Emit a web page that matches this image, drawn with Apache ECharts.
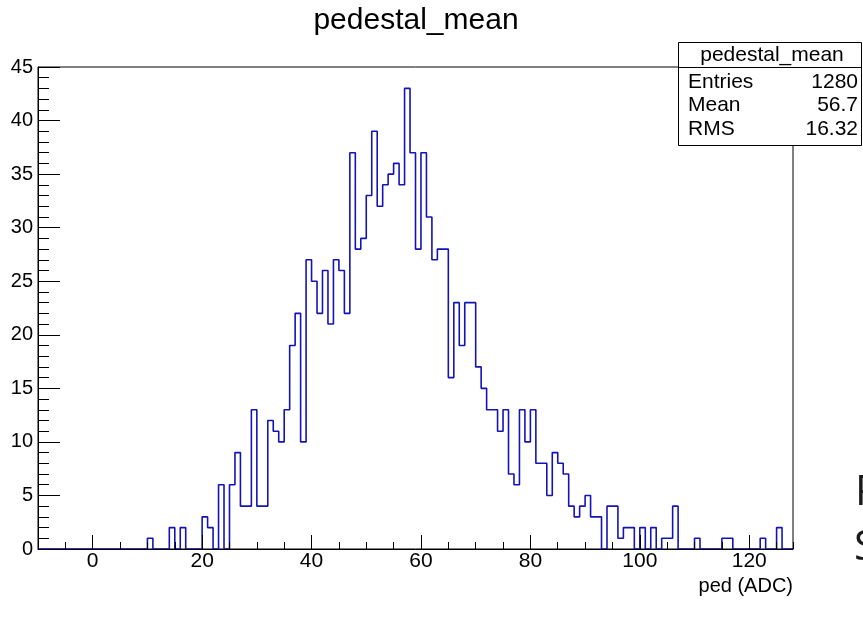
<!DOCTYPE html>
<html>
<head>
<meta charset="utf-8">
<script src="https://cdn.jsdelivr.net/npm/echarts@6/dist/echarts.min.js"></script>
<style>
html,body{margin:0;padding:0;background:#fff;}
#chart{width:863px;height:623px;}
</style>
</head>
<body>
<div id="chart"></div>
<script>
// Histogram definition: bins of width 1 starting at -10 (138 bins, up to 128)
const binStart = -10;
const binWidth = 1;
const binCounts = [
  0,0,0,0,0,0,0,0,0,0,        // -10 .. -1
  0,0,0,0,0,0,0,0,0,0,        // 0 .. 9
  1,0,0,0,2,0,2,0,0,0,        // 10 .. 19
  3,2,0,6,0,6,9,4,4,13,       // 20 .. 29
  4,4,12,11,10,13,19,22,10,27,// 30 .. 39
  25,22,26,21,27,26,22,37,28,29, // 40 .. 49
  33,39,32,34,35,36,34,43,37,28, // 50 .. 59
  37,31,27,28,28,16,23,19,23,23, // 60 .. 69
  17,15,13,13,11,13,7,6,13,10,   // 70 .. 79
  13,8,8,5,9,8,7,4,3,4,          // 80 .. 89
  5,3,3,0,4,4,1,2,2,0,           // 90 .. 99
  2,0,2,0,1,1,4,0,0,0,           // 100 .. 109
  1,0,0,0,0,1,1,0,0,0,           // 110 .. 119
  0,0,1,0,0,2,0,0                // 120 .. 127
];
const xMin = -10, xMax = 128;
const yMin = 0, yMax = 45;
const xMajorTicks = [0, 20, 40, 60, 80, 100, 120];
const titleText = 'pedestal_mean';
const xAxisTitle = 'ped (ADC)';
const statsTitle = 'pedestal_mean';
const statsLabels = ['Entries', 'Mean', 'RMS'];
const statsValues = ['1280', '56.7', '16.32'];

// step outline points at bin left edges, plus closing right edge
const stepData = binCounts.map((c, i) => [binStart + i * binWidth, c]);
stepData.push([binStart + binCounts.length * binWidth, binCounts[binCounts.length - 1]]);

const FONT = '"Liberation Sans", Arial, Helvetica, sans-serif';
const chart = echarts.init(document.getElementById('chart'), null, {renderer: 'canvas'});

const statsGraphics = [];
statsGraphics.push({
  type: 'rect', z: 100,
  shape: {x: 678.5, y: 42.5, width: 183, height: 103},
  style: {fill: '#fff', stroke: '#000', lineWidth: 1}
});
statsGraphics.push({
  type: 'line', z: 101,
  shape: {x1: 678.5, y1: 67.5, x2: 861.5, y2: 67.5},
  style: {stroke: '#000', lineWidth: 1}
});
statsGraphics.push({
  type: 'text', z: 101, x: 772, y: 55,
  style: {text: statsTitle, font: '21px ' + FONT, fill: '#000', align: 'center', verticalAlign: 'middle'}
});
statsLabels.forEach((lab, i) => {
  statsGraphics.push({
    type: 'text', z: 101, x: 688, y: 82 + i * 23.5,
    style: {text: lab, font: '21px ' + FONT, fill: '#000', align: 'left', verticalAlign: 'middle'}
  });
  statsGraphics.push({
    type: 'text', z: 101, x: 858, y: 82 + i * 23.5,
    style: {text: statsValues[i], font: '21px ' + FONT, fill: '#000', align: 'right', verticalAlign: 'middle'}
  });
});

const option = {
  backgroundColor: '#fff',
  animation: false,
  grid: {
    left: 38, right: 70, top: 67, bottom: 74,
    show: true, borderColor: '#000', borderWidth: 1, backgroundColor: 'transparent'
  },
  xAxis: [
    {
      type: 'value', min: xMin, max: xMax, interval: 5, position: 'bottom', z: 5,
      axisLine: {show: true, onZero: false, lineStyle: {color: '#000', width: 1}},
      axisTick: {show: true, inside: true, length: 7, lineStyle: {color: '#000', width: 1}},
      axisLabel: {show: false},
      splitLine: {show: false}
    },
    {
      type: 'value', min: xMin, max: xMax, position: 'bottom', z: 5,
      axisLine: {show: false, onZero: false},
      axisTick: {show: true, inside: true, length: 14, customValues: xMajorTicks, lineStyle: {color: '#000', width: 1}},
      axisLabel: {show: true, customValues: xMajorTicks, color: '#000', fontSize: 21, fontFamily: FONT, margin: 2},
      splitLine: {show: false}
    }
  ],
  yAxis: {
    type: 'value', min: yMin, max: yMax, interval: 5, z: 5,
    axisLine: {show: true, onZero: false, lineStyle: {color: '#000', width: 1}},
    axisTick: {show: true, inside: true, length: 22, lineStyle: {color: '#000', width: 1}},
    minorTick: {show: true, splitNumber: 5, length: 11, lineStyle: {color: '#000', width: 1}},
    axisLabel: {color: '#000', fontSize: 20, fontFamily: FONT, margin: 5},
    splitLine: {show: false},
    minorSplitLine: {show: false}
  },
  series: [{
    type: 'line',
    xAxisIndex: 0,
    step: 'end',
    symbol: 'none',
    data: stepData,
    lineStyle: {color: '#1414b4', width: 1.6},
    z: 2
  }],
  graphic: [
    {type: 'text', x: 416, y: 21, style: {text: titleText, font: '30px ' + FONT, fill: '#000', align: 'center', verticalAlign: 'middle'}},
    {type: 'text', x: 793, y: 586, style: {text: xAxisTitle, font: '20px ' + FONT, fill: '#000', align: 'right', verticalAlign: 'middle'}},
    {type: 'text', x: 855, y: 493, style: {text: 'P', font: '42px "Open Sans", sans-serif', fill: '#1a1a1a', align: 'left', verticalAlign: 'middle'}},
    {type: 'text', x: 854, y: 548, style: {text: 'S', font: '42px "Open Sans", sans-serif', fill: '#1a1a1a', align: 'left', verticalAlign: 'middle'}}
  ].concat(statsGraphics)
};
chart.setOption(option);
</script>
</body>
</html>
